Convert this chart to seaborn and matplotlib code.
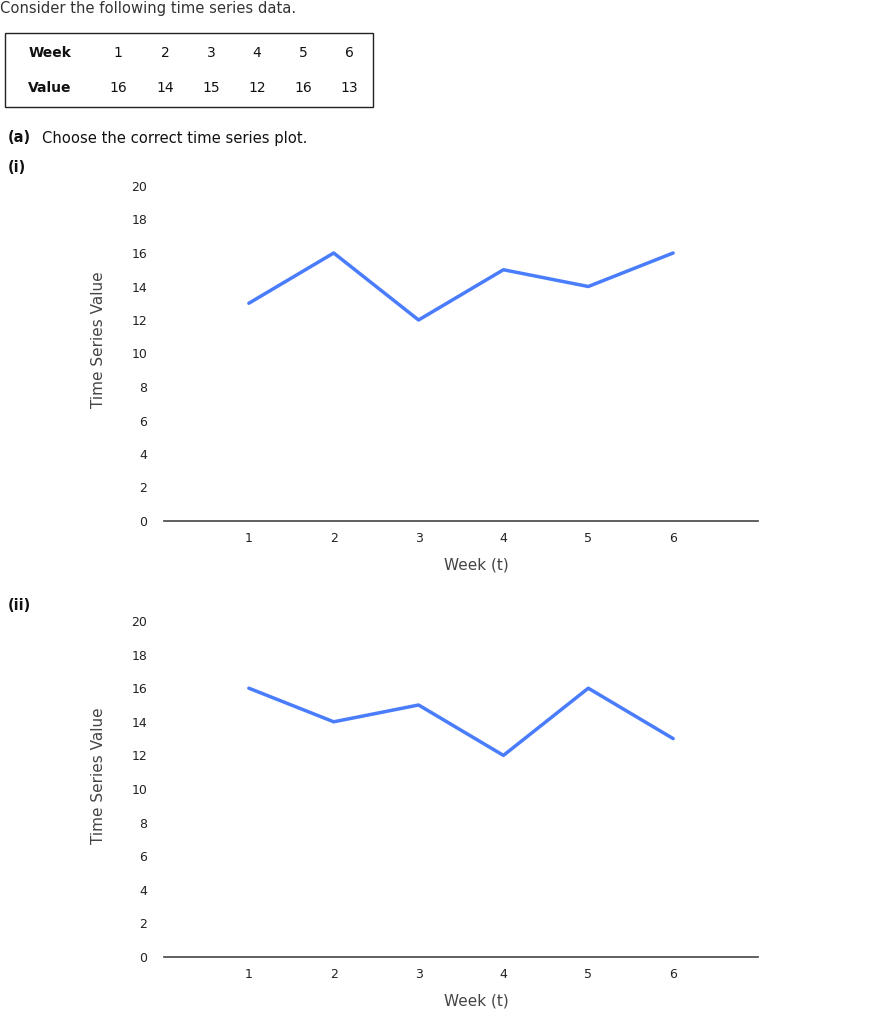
import matplotlib
matplotlib.use("Agg")
import matplotlib.pyplot as plt
import seaborn as sns
import pandas as pd
from matplotlib.patches import Rectangle

# Data
weeks = [1, 2, 3, 4, 5, 6]
values = [16, 14, 15, 12, 16, 13]
option_i_values = [13, 16, 12, 15, 14, 16]
option_ii_values = [16, 14, 15, 12, 16, 13]
y_ticks = [0, 2, 4, 6, 8, 10, 12, 14, 16, 18, 20]

sns.set_theme(style="white")
plt.rcParams['font.family'] = ['DejaVu Sans']

W, H = 888, 1024
fig = plt.figure(figsize=(W / 100, H / 100), dpi=100)

def fx(px):
    return px / W

def fy(py):
    return 1 - py / H

text_color = "#333333"

# Header text
fig.text(fx(0), fy(8), "Consider the following time series data.", fontsize=10.6,
         color=text_color, va="center", ha="left")

# Table
fig.patches.append(Rectangle((fx(5), fy(107)), fx(368), 74 / H, transform=fig.transFigure,
                             fill=False, edgecolor="#222222", linewidth=1.0))
col_x = [118, 165, 211, 257, 303, 349]
fig.text(fx(50), fy(53), "Week", fontsize=10, fontweight="bold", ha="center", va="center", color="#111111")
fig.text(fx(50), fy(88), "Value", fontsize=10, fontweight="bold", ha="center", va="center", color="#111111")
for cx, w, v in zip(col_x, weeks, values):
    fig.text(fx(cx), fy(53), str(w), fontsize=10, ha="center", va="center", color="#111111")
    fig.text(fx(cx), fy(88), str(v), fontsize=10, ha="center", va="center", color="#111111")

# Question text
fig.text(fx(8), fy(138), "(a)", fontsize=10.5, fontweight="bold", ha="left", va="center", color="#111111")
fig.text(fx(42), fy(138), "Choose the correct time series plot.", fontsize=10.6, ha="left", va="center", color="#111111")
fig.text(fx(8), fy(168), "(i)", fontsize=10.5, fontweight="bold", ha="left", va="center", color="#111111")
fig.text(fx(8), fy(605), "(ii)", fontsize=10.5, fontweight="bold", ha="left", va="center", color="#111111")

line_color = "#4a7dfc"

def make_panel(top_px, bottom_px, series):
    ax = fig.add_axes([fx(164), fy(bottom_px), fx(758) - fx(164), (bottom_px - top_px) / H])
    df = pd.DataFrame({"Week": weeks, "Value": series})
    sns.lineplot(data=df, x="Week", y="Value", ax=ax, color=line_color, linewidth=2.5)
    ax.set_xlim(0, 7)
    ax.set_ylim(0, 20)
    ax.set_xticks(weeks)
    ax.set_yticks(y_ticks)
    ax.set_yticklabels([str(t) for t in y_ticks])
    for s in ["top", "right", "left"]:
        ax.spines[s].set_visible(False)
    ax.spines["bottom"].set_color("#444444")
    ax.spines["bottom"].set_linewidth(1.2)
    ax.tick_params(axis="both", length=0, labelsize=9, colors="#222222")
    ax.tick_params(axis="y", pad=12)
    ax.tick_params(axis="x", pad=8)
    ax.set_xlabel("Week (t)", fontsize=11, color="#444444")
    ax.set_ylabel("Time Series Value", fontsize=11, color="#444444")
    h = bottom_px - top_px
    ax.xaxis.set_label_coords((476 - 164) / 594, -44 / h)
    ax.yaxis.set_label_coords((98 - 164) / 594, 0.54)
    ax.xaxis.label.set_va("center")
    ax.yaxis.label.set_va("center")
    ax.patch.set_alpha(0)
    ax.grid(False)
    return ax

make_panel(186, 521, option_i_values)
make_panel(621, 957, option_ii_values)

fig.savefig("out.png", dpi=100, facecolor="white")
